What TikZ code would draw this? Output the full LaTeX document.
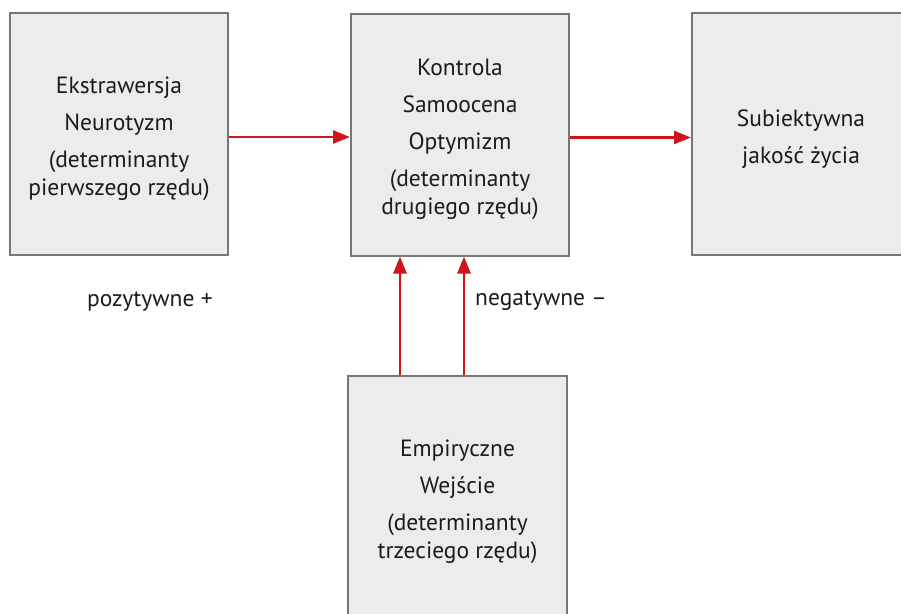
\documentclass[tikz,border=0pt]{standalone}
\usepackage{fontspec}
\setmainfont{PT Sans}
\usetikzlibrary{arrows.meta}
\definecolor{boxfill}{HTML}{ECECEC}
\definecolor{boxline}{HTML}{777777}
\definecolor{arrowred}{HTML}{D0141C}
\definecolor{textgray}{HTML}{1E1A1B}
\begin{document}
\begin{tikzpicture}[x=1pt,y=-1pt,
  box/.style={draw=boxline, fill=boxfill, line width=2pt, minimum width=218pt,
    minimum height=242pt, inner sep=0pt},
  boxtext/.style={align=center, text=textgray, inner sep=0pt,
    font=\fontsize{23.5}{28}\selectfont},
  flow/.style={draw=arrowred, line width=2.6pt,
    -{Triangle[length=17pt,width=13pt]}},
  lbl/.style={text=textgray, font=\fontsize{23.5}{28}\selectfont, inner sep=0pt, anchor=base west}]
\useasboundingbox (0,0) rectangle (901,613);
\begin{scope}
\clip (0,0) rectangle (901,613);
% the four boxes; the right one and the bottom one run past the edge
\node[box] (b1) at (119,134) {};
\node[box] (b2) at (460,134.5) {};
\node[box] (b3) at (801,134) {};
\node[box, minimum width=219pt, minimum height=252pt] (b4) at (457.5,502) {};
\end{scope}
\node[boxtext] (t1) at ([yshift=-5pt]b1.center) {Ekstrawersja\\[9pt] Neurotyzm\\[9pt] (determinanty\\ pierwszego rzędu)};
\node[boxtext] (t2) at ([yshift=-5pt]b2.center) {Kontrola\\[9pt] Samoocena\\[9pt] Optymizm\\[9pt] (determinanty\\ drugiego rzędu)};
\node[boxtext] (t3) at ([yshift=-5pt]b3.center) {Subiektywna\\[9pt] jakość życia};
\node[boxtext] (t4) at (b4.center) {Empiryczne\\[9pt] Wejście\\[9pt] (determinanty\\ trzeciego rzędu)};
% connectors
\draw[flow] ([yshift=-3pt]b1.east) -- ([yshift=-3pt]b1.east -| b2.west);
\draw[flow] ([yshift=-3pt]b2.east) -- ([yshift=-3pt]b2.east -| b3.west);
\draw[flow] ([xshift=-57.5pt]b4.north) -- ([xshift=-57.5pt]b4.north |- b2.south);
\draw[flow] ([xshift=6.5pt]b4.north) -- ([xshift=6.5pt]b4.north |- b2.south);
\node[lbl] (pos) at (87,306) {pozytywne +};
\node[lbl] (neg) at (475,305) {negatywne –};
\end{tikzpicture}
\end{document}
